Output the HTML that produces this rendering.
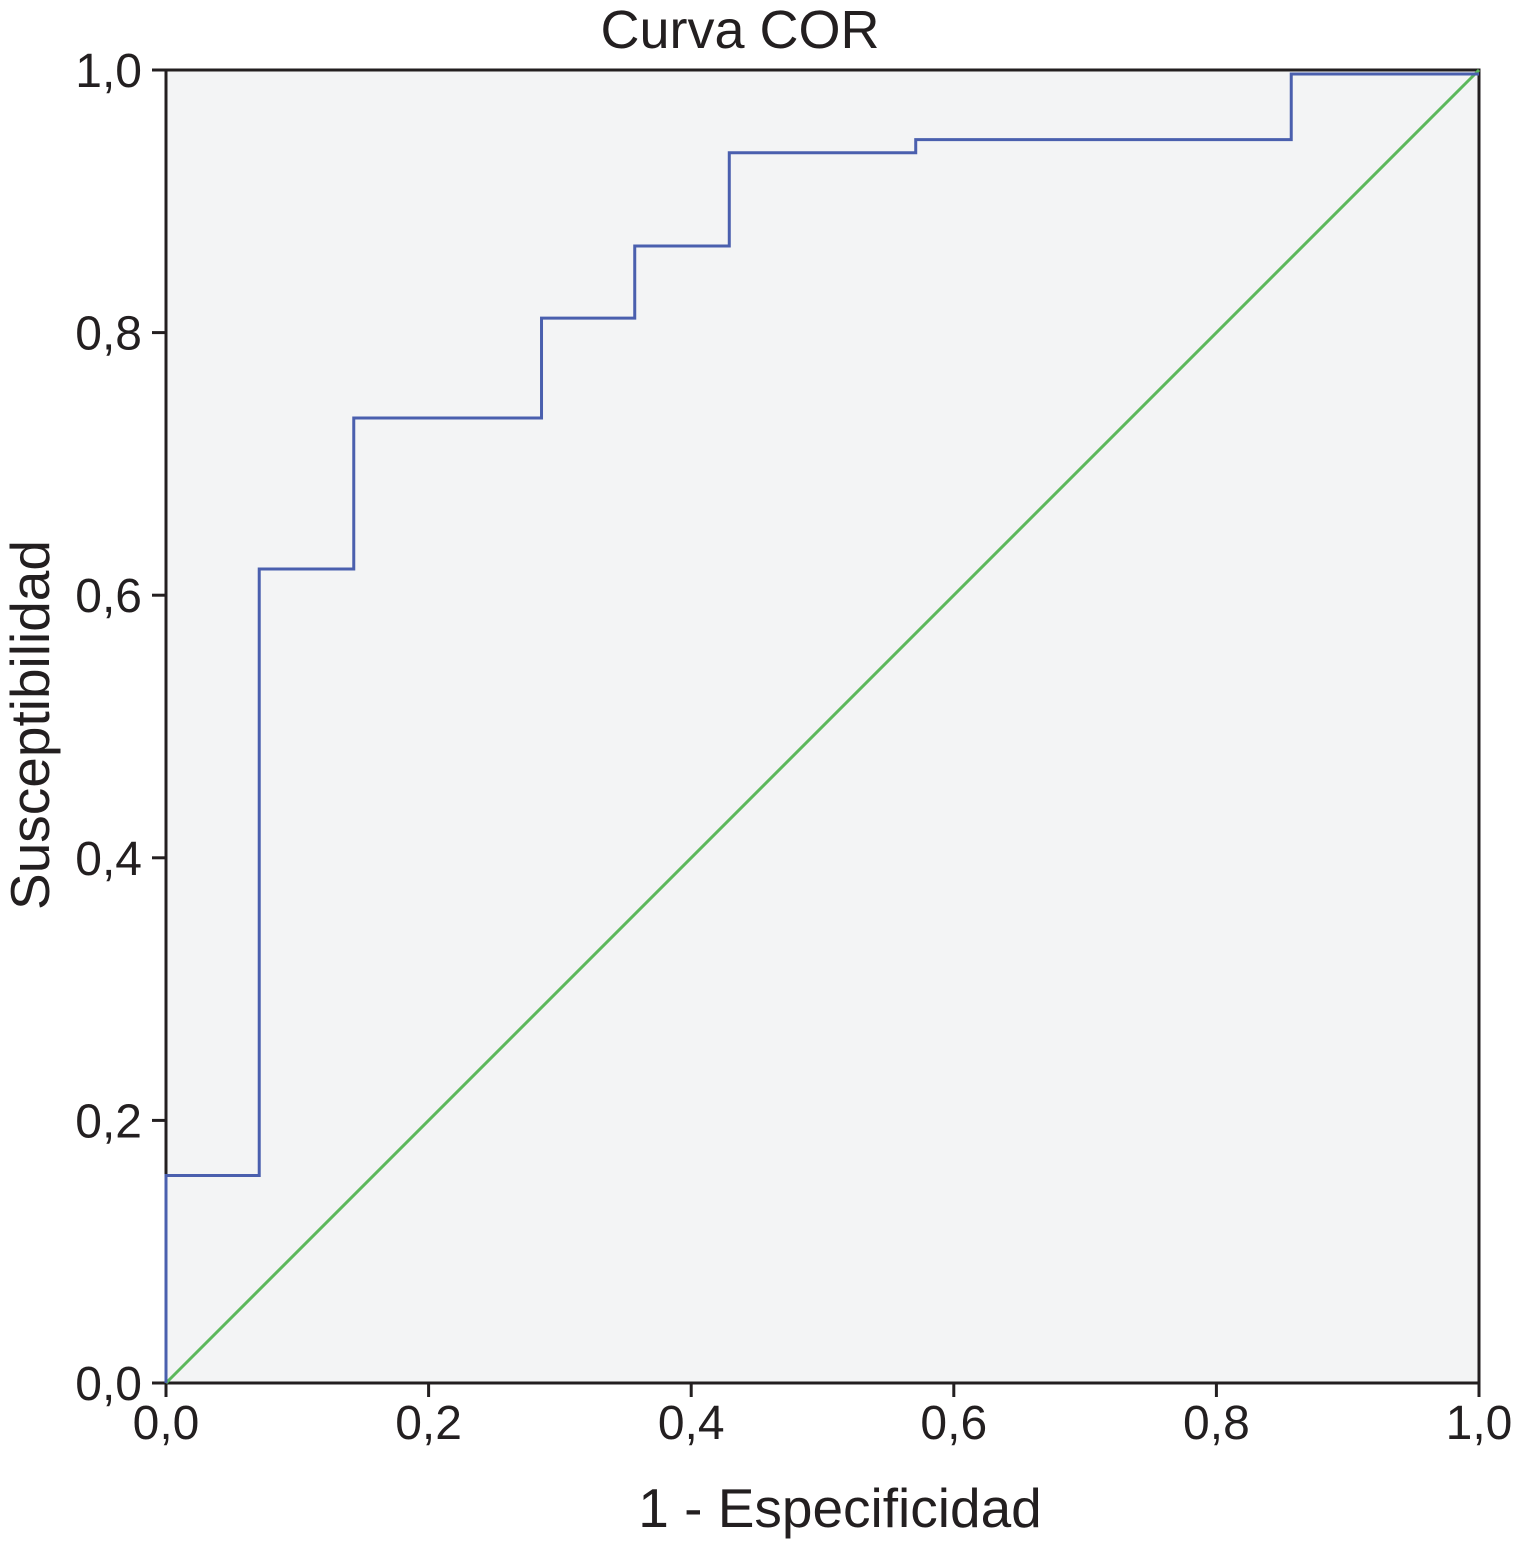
<!DOCTYPE html>
<html><head><meta charset="utf-8"><style>
html,body{margin:0;padding:0;background:#fff;}
svg{display:block;font-family:"Liberation Sans",sans-serif;}
</style></head><body>
<svg id="chart" width="1517" height="1554" viewBox="0 0 1517 1554">
<text x="740" y="48" font-size="54" text-anchor="middle" fill="#231f20">Curva COR</text>
<rect x="166" y="70" width="1313" height="1313" fill="#f3f4f5" stroke="#231f20" stroke-width="3"/>
<g id="ticks"></g>
<line id="diag" stroke="#5cb85c" stroke-width="3"/>
<polyline id="roc" fill="none" stroke="#4a5fae" stroke-width="3"/>
<text x="840" y="1527" font-size="55" text-anchor="middle" fill="#231f20">1 - Especificidad</text>
<text transform="translate(49,725) rotate(-90)" font-size="55" text-anchor="middle" fill="#231f20">Susceptibilidad</text>
</svg>
<script>
const fprValues=[0,0,0.071,0.071,0.143,0.143,0.286,0.286,0.357,0.357,0.429,0.429,0.571,0.571,0.857,0.857,1];
const tprValues=[0,0.158,0.158,0.62,0.62,0.735,0.735,0.811,0.811,0.866,0.866,0.937,0.937,0.947,0.947,0.997,0.997];
const tickValues=[0,0.2,0.4,0.6,0.8,1.0];
const tickLabels=["0,0","0,2","0,4","0,6","0,8","1,0"];
const X0=166,Y0=1383,W=1313,H=1313;
const sx=v=>X0+v*W, sy=v=>Y0-v*H;
const ns="http://www.w3.org/2000/svg";
document.getElementById('roc').setAttribute('points',fprValues.map((v,i)=>sx(v)+','+sy(tprValues[i])).join(' '));
const d=document.getElementById('diag');
d.setAttribute('x1',sx(0));d.setAttribute('y1',sy(0));d.setAttribute('x2',sx(1));d.setAttribute('y2',sy(1));
const g=document.getElementById('ticks');
tickValues.forEach((v,i)=>{
 let l=document.createElementNS(ns,'line');
 
 
 l.setAttribute('x1',X0-14);l.setAttribute('x2',X0);l.setAttribute('y1',sy(v));l.setAttribute('y2',sy(v));
 l.setAttribute('stroke','#231f20');l.setAttribute('stroke-width','3');g.appendChild(l);
 let t=document.createElementNS(ns,'text');
 
 
 t.setAttribute('x',X0-24);t.setAttribute('y',sy(v)+17);t.setAttribute('text-anchor','end');
 t.setAttribute('font-size','48');t.setAttribute('fill','#231f20');t.textContent=tickLabels[i];g.appendChild(t);
 let l2=document.createElementNS(ns,'line');
 
 
 l2.setAttribute('x1',sx(v));l2.setAttribute('x2',sx(v));l2.setAttribute('y1',Y0);l2.setAttribute('y2',Y0+14);
 l2.setAttribute('stroke','#231f20');l2.setAttribute('stroke-width','3');g.appendChild(l2);
 let t2=document.createElementNS(ns,'text');
 
 
 t2.setAttribute('x',sx(v));t2.setAttribute('y',Y0+56);t2.setAttribute('text-anchor','middle');
 t2.setAttribute('font-size','48');t2.setAttribute('fill','#231f20');t2.textContent=tickLabels[i];g.appendChild(t2);
});
</script>
</body></html>
